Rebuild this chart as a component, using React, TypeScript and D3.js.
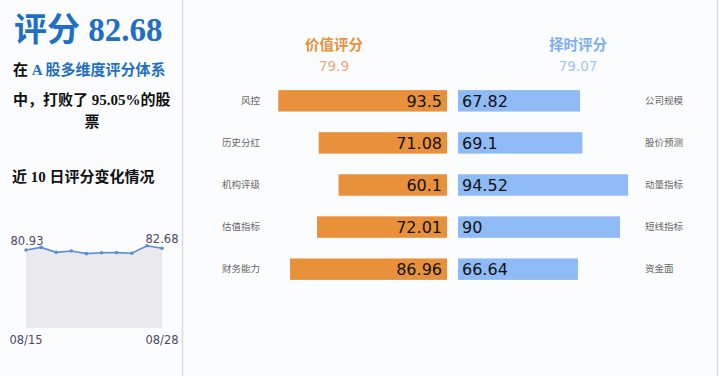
import React from "react";
import * as d3 from "d3";

const valueLabels = ["风控", "历史分红", "机构评级", "估值指标", "财务能力"];
const valueScores = [93.5, 71.08, 60.1, 72.01, 86.96];
const timingLabels = ["公司规模", "股价预测", "动量指标", "短线指标", "资金面"];
const timingScores = [67.82, 69.1, 94.52, 90, 66.64];
const valueTotal = "79.9";
const timingTotal = "79.07";
const totalScore = "82.68";
const beatPct = "95.05%";
const trendDates = ["08/15", "08/16", "08/19", "08/20", "08/21", "08/22", "08/23", "08/26", "08/27", "08/28"];
const trendScores = [80.93, 83.6, 78.5, 79.9, 77.2, 78.1, 78.2, 77.5, 85.3, 82.68];

const W = 720;
const H = 376;

export default function App() {
  const rows = d3.range(valueScores.length);
  const yBand = d3.scaleBand<number>().domain(rows).range([80, 290]).paddingInner(0.49).paddingOuter(0.24);
  const orangeX = d3.scaleLinear().domain([0, 100]).range([447, 266.5]);
  const blueX = d3.scaleLinear().domain([0, 100]).range([458, 638]);

  const sx = d3.scalePoint<string>().domain(trendDates).range([26, 162]);
  const sy = d3.scaleLinear().domain([0, 100]).range([328, 231.6]);
  const pts = trendScores.map((v, i) => ({ d: trendDates[i], v }));
  const area = d3.area<{ d: string; v: number }>().x((p) => sx(p.d)!).y0(sy(0)).y1((p) => sy(p.v));
  const line = d3.line<{ d: string; v: number }>().x((p) => sx(p.d)!).y((p) => sy(p.v));

  const cjk = "'Noto Sans CJK SC', 'DejaVu Sans', sans-serif";
  const serif = "'Liberation Serif', 'Noto Sans CJK SC', serif";
  const blueTitle = "#1f6fc5";

  return (
    <svg width={W} height={H} style={{ position: "absolute", left: 0, top: 0, display: "block" }}>
      <rect x={0} y={0} width={W} height={H} fill="#fbfcfe" />
      <line x1={182.5} x2={182.5} y1={0} y2={H} stroke="#d6dbe6" strokeWidth={1.5} />
      <line x1={717.5} x2={717.5} y1={0} y2={H} stroke="#d6dbe6" strokeWidth={1.5} />

      {/* left panel */}
      <text x={14} y={41} fontFamily={serif} fontWeight="bold" fontSize={33} fill={blueTitle}>
        评分 {totalScore}
      </text>
      <text x={13} y={75} fontFamily={serif} fontWeight="bold" fontSize={15} fill="#111">
        在 <tspan fill={blueTitle}>A 股多维度评分体系</tspan>
      </text>
      <text x={13} y={105} fontFamily={serif} fontWeight="bold" fontSize={15} fill="#111">
        中，打败了 {beatPct}的股
      </text>
      <text x={92} y={127} textAnchor="middle" fontFamily={serif} fontWeight="bold" fontSize={15} fill="#111">
        票
      </text>
      <text x={12} y={182} fontFamily={serif} fontWeight="bold" fontSize={15} fill="#111">
        近 10 日评分变化情况
      </text>

      <path d={area(pts)!} fill="#e9e9ee" />
      <path d={line(pts)!} fill="none" stroke="#5a8ed8" strokeWidth={1.6} />
      {pts.map((p) => (
        <circle key={p.d} cx={sx(p.d)} cy={sy(p.v)} r={1.8} fill="#5a8ed8" />
      ))}
      <text x={sx(trendDates[0])! + 1} y={sy(trendScores[0]) - 5} textAnchor="middle" fontFamily="'DejaVu Sans', sans-serif" fontSize={11.5} fill="#4e4866">
        {trendScores[0]}
      </text>
      <text x={sx(trendDates[trendDates.length - 1])!} y={sy(trendScores[trendScores.length - 1]) - 5} textAnchor="middle" fontFamily="'DejaVu Sans', sans-serif" fontSize={11.5} fill="#4e4866">
        {trendScores[trendScores.length - 1]}
      </text>
      <text x={26} y={344} textAnchor="middle" fontFamily="'DejaVu Sans', sans-serif" fontSize={11.5} fill="#4e4866">
        {trendDates[0]}
      </text>
      <text x={162} y={344} textAnchor="middle" fontFamily="'DejaVu Sans', sans-serif" fontSize={11.5} fill="#4e4866">
        {trendDates[trendDates.length - 1]}
      </text>

      {/* headers */}
      <text x={334} y={50} textAnchor="middle" fontFamily={cjk} fontWeight="bold" fontSize={14.5} fill="#e8913a">
        价值评分
      </text>
      <text x={334} y={71} textAnchor="middle" fontFamily="'DejaVu Sans', sans-serif" fontSize={13.5} fill="#eaa878">
        {valueTotal}
      </text>
      <text x={578} y={50} textAnchor="middle" fontFamily={cjk} fontWeight="bold" fontSize={14.5} fill="#7eaef0">
        择时评分
      </text>
      <text x={578} y={71} textAnchor="middle" fontFamily="'DejaVu Sans', sans-serif" fontSize={13.5} fill="#a3c4ee">
        {timingTotal}
      </text>

      {rows.map((i) => {
        const y = yBand(i)!;
        const h = yBand.bandwidth();
        const cy = y + h / 2;
        return (
          <g key={i}>
            <rect x={orangeX(valueScores[i])} y={y} width={orangeX(0) - orangeX(valueScores[i])} height={h} fill="#e8913a" />
            <text x={orangeX(0) - 5} y={cy} dy="0.36em" textAnchor="end" fontFamily="'DejaVu Sans', sans-serif" fontSize={16} fill="#111">
              {valueScores[i]}
            </text>
            <rect x={blueX(0)} y={y} width={blueX(timingScores[i]) - blueX(0)} height={h} fill="#8ebaf6" />
            <text x={blueX(0) + 4} y={cy} dy="0.36em" fontFamily="'DejaVu Sans', sans-serif" fontSize={16} fill="#111">
              {timingScores[i]}
            </text>
            <text x={260} y={cy} dy="0.35em" textAnchor="end" fontFamily={cjk} fontSize={9.5} fill="#666">
              {valueLabels[i]}
            </text>
            <text x={645} y={cy} dy="0.35em" fontFamily={cjk} fontSize={9.5} fill="#666">
              {timingLabels[i]}
            </text>
          </g>
        );
      })}
    </svg>
  );
}
